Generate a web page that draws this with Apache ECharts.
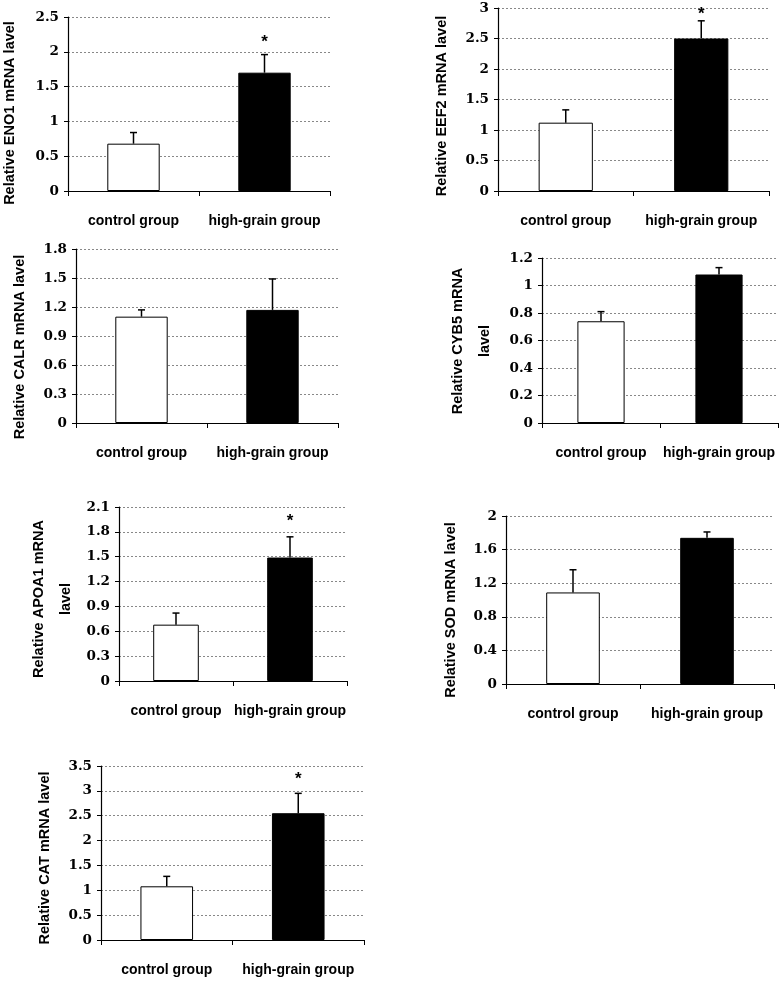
<!DOCTYPE html>
<html><head><meta charset="utf-8">
<script src="https://cdn.jsdelivr.net/npm/echarts@6/dist/echarts.min.js"></script>
<style>html,body{margin:0;padding:0;background:#fff}#c{width:782px;height:982px}</style>
</head><body><div id="c"></div>
<script>
const categories = ['control group', 'high-grain group'];

const eno1Mean = [0.68, 1.70];  const eno1Err = [0.16, 0.26];  const eno1Star = [null, 2.13];
const eef2Mean = [1.12, 2.50];  const eef2Err = [0.21, 0.29];  const eef2Star = [null, 2.90];
const calrMean = [1.10, 1.17];  const calrErr = [0.07, 0.32];  const calrStar = [null, null];
const cyb5Mean = [0.74, 1.08];  const cyb5Err = [0.07, 0.05];  const cyb5Star = [null, null];
const apoa1Mean = [0.68, 1.49]; const apoa1Err = [0.14, 0.25]; const apoa1Star = [null, 1.93];
const sodMean = [1.09, 1.74];   const sodErr = [0.27, 0.07];   const sodStar = [null, null];
const catMean = [1.08, 2.55];   const catErr = [0.20, 0.40];   const catStar = [null, 3.24];

// y axis ticks: [max, interval]
const eno1Ticks = [2.5, 0.5];
const eef2Ticks = [3, 0.5];
const calrTicks = [1.8, 0.3];
const cyb5Ticks = [1.2, 0.2];
const apoa1Ticks = [2.1, 0.3];
const sodTicks = [2, 0.4];
const catTicks = [3.5, 0.5];

const yNames = ['Relative ENO1 mRNA lavel', 'Relative EEF2 mRNA lavel', 'Relative CALR mRNA lavel',
  'Relative CYB5 mRNA\nlavel', 'Relative APOA1 mRNA\nlavel', 'Relative SOD mRNA lavel', 'Relative CAT mRNA lavel'];

const panels = [
  {mean: eno1Mean, err: eno1Err, star: eno1Star, ticks: eno1Ticks, grid: {left: 68, top: 17, width: 262, height: 174}, name: [10, 113]},
  {mean: eef2Mean, err: eef2Err, star: eef2Star, ticks: eef2Ticks, grid: {left: 498, top: 8, width: 271, height: 183}, name: [442, 106]},
  {mean: calrMean, err: calrErr, star: calrStar, ticks: calrTicks, grid: {left: 76, top: 249, width: 262, height: 174}, name: [20, 347]},
  {mean: cyb5Mean, err: cyb5Err, star: cyb5Star, ticks: cyb5Ticks, grid: {left: 542, top: 258, width: 236, height: 165}, name: [471, 341]},
  {mean: apoa1Mean, err: apoa1Err, star: apoa1Star, ticks: apoa1Ticks, grid: {left: 119, top: 507, width: 228, height: 174}, name: [52, 599]},
  {mean: sodMean, err: sodErr, star: sodStar, ticks: sodTicks, grid: {left: 506, top: 516, width: 268, height: 168}, name: [451, 610]},
  {mean: catMean, err: catErr, star: catStar, ticks: catTicks, grid: {left: 101, top: 766, width: 263, height: 174}, name: [45, 858]}
];

const barColors = ['#ffffff', '#000000'];
const option = {animation: false, backgroundColor: '#fff', grid: [], xAxis: [], yAxis: [], series: [], graphic: []};

panels.forEach((p, i) => {
  option.grid.push(Object.assign({containLabel: false}, p.grid));
  option.xAxis.push({
    type: 'category', gridIndex: i, data: categories, boundaryGap: true,
    axisLine: {lineStyle: {color: '#000', width: 1.2}},
    axisTick: {show: true, inside: false, length: 5, interval: 0, lineStyle: {color: '#000'}},
    axisLabel: {interval: 0, hideOverlap: false, margin: 23, color: '#000', fontFamily: 'Liberation Sans, Arial', fontWeight: 'bold', fontSize: 14},
    splitLine: {show: false}
  });
  option.yAxis.push({
    type: 'value', gridIndex: i, min: 0, max: p.ticks[0], interval: p.ticks[1],
    axisLine: {show: true, lineStyle: {color: '#000', width: 1.2}},
    axisTick: {show: true, length: 4, lineStyle: {color: '#000'}},
    axisLabel: {margin: 9, color: '#000', fontFamily: 'DejaVu Serif', fontWeight: 'bold', fontSize: 13.5},
    splitLine: {show: true, lineStyle: {color: '#888', type: [2, 2], width: 1}}
  });
  option.graphic.push({
    type: 'text', x: p.name[0], y: p.name[1], rotation: Math.PI / 2,
    style: {text: yNames[i], fill: '#000', font: 'bold 14.5px Liberation Sans, Arial', align: 'center', verticalAlign: 'middle', lineHeight: 27}
  });
  option.series.push({
    type: 'bar', xAxisIndex: i, yAxisIndex: i, barWidth: '40%',
    data: p.mean.map((v, k) => ({value: v, itemStyle: {color: barColors[k], borderColor: '#000', borderWidth: 1}}))
  });
  option.series.push({
    type: 'custom', xAxisIndex: i, yAxisIndex: i, z: 5,
    data: p.mean.map((v, k) => [k, v, v + p.err[k]]),
    renderItem: function (params, api) {
      const base = api.coord([api.value(0), api.value(1)]);
      const top = api.coord([api.value(0), api.value(2)]);
      const hw = 3.5;
      return {type: 'group', children: [
        {type: 'line', shape: {x1: base[0], y1: base[1], x2: top[0], y2: top[1]}, style: {stroke: '#000', lineWidth: 1.5}},
        {type: 'line', shape: {x1: top[0] - hw, y1: top[1], x2: top[0] + hw, y2: top[1]}, style: {stroke: '#000', lineWidth: 1.5}}
      ]};
    }
  });
  const starData = p.star.map((v, k) => v == null ? null : [k, v]).filter(d => d);
  if (starData.length) {
    option.series.push({
      type: 'custom', xAxisIndex: i, yAxisIndex: i, z: 6, data: starData,
      renderItem: function (params, api) {
        const pt = api.coord([api.value(0), api.value(1)]);
        return {type: 'text', x: pt[0], y: pt[1], style: {text: '*', fill: '#000', font: 'bold 17px Liberation Sans, Arial', align: 'center', verticalAlign: 'middle'}};
      }
    });
  }
});

const chart = echarts.init(document.getElementById('c'), null, {renderer: 'canvas'});
chart.setOption(option);
</script></body></html>
